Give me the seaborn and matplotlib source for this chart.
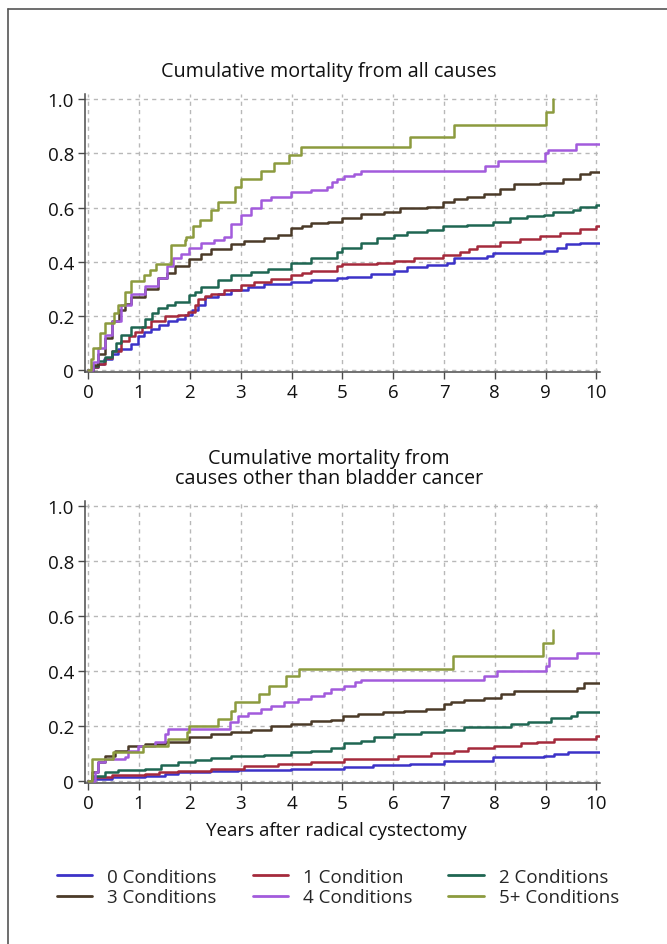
import numpy as np
import pandas as pd
import matplotlib
matplotlib.use("Agg")
import matplotlib.pyplot as plt
from matplotlib.lines import Line2D
import seaborn as sns

# ---------------- data ----------------
groups = ["0 Conditions", "1 Condition", "2 Conditions",
          "3 Conditions", "4 Conditions", "5+ Conditions"]
colors = ["#3c32c8", "#a52a3c", "#1f6652", "#4b3a28", "#a25bdc", "#8c9b3e"]

title_top = "Cumulative mortality from all causes"
title_bottom = "Cumulative mortality from\ncauses other than bladder cancer"
xlabel = "Years after radical cystectomy"
xticks = list(range(0, 11))
yticks = [0, 0.2, 0.4, 0.6, 0.8, 1.0]
ytick_labels = ["0", "0.2", "0.4", "0.6", "0.8", "1.0"]

# --- all causes ---
all_t0 = [0, 0.1, 0.2, 0.3, 0.46, 0.59, 0.85, 0.98, 1.1, 1.24, 1.4, 1.57, 1.75, 1.9, 2.05, 2.16, 2.29, 2.55, 2.81,
          3.14, 3.46, 3.99, 4.38, 4.9, 5.1, 5.56, 6.01, 6.27, 6.67, 7.06, 7.19, 7.84, 7.97, 8.96, 9.22, 9.41, 9.67, 10.07]
all_v0 = [0, 0.01, 0.023, 0.04, 0.06, 0.077, 0.095, 0.125, 0.14, 0.15, 0.165, 0.18, 0.19, 0.204, 0.22, 0.24, 0.27,
          0.282, 0.295, 0.307, 0.319, 0.325, 0.331, 0.34, 0.343, 0.355, 0.367, 0.379, 0.388, 0.397, 0.412, 0.421,
          0.434, 0.44, 0.452, 0.464, 0.47, 0.47]
all_t1 = [0, 0.1, 0.2, 0.33, 0.46, 0.65, 0.8, 0.91, 1.05, 1.24, 1.5, 1.76, 1.96, 2.1, 2.16, 2.3, 2.42, 2.68, 3.0, 3.27,
          3.6, 3.99, 4.2, 4.38, 4.9, 5.0, 5.69, 6.01, 6.41, 6.99, 7.32, 7.5, 7.65, 8.11, 8.5, 8.89, 9.28, 9.67, 10.0, 10.07]
all_v1 = [0, 0.01, 0.023, 0.045, 0.07, 0.107, 0.125, 0.14, 0.16, 0.18, 0.198, 0.204, 0.216, 0.24, 0.264, 0.272, 0.282,
          0.295, 0.313, 0.325, 0.337, 0.35, 0.358, 0.367, 0.385, 0.392, 0.397, 0.403, 0.415, 0.424, 0.436, 0.447,
          0.458, 0.472, 0.484, 0.494, 0.506, 0.52, 0.533, 0.533]
all_t2 = [0, 0.1, 0.2, 0.33, 0.46, 0.55, 0.65, 0.85, 1.11, 1.25, 1.37, 1.55, 1.7, 1.99, 2.1, 2.22, 2.55, 2.81, 3.2,
          3.53, 3.99, 4.38, 4.9, 5.0, 5.36, 5.69, 6.01, 6.27, 6.67, 6.99, 7.45, 7.97, 8.3, 8.63, 8.96, 9.15, 9.54,
          9.67, 10.0, 10.07]
all_v2 = [0, 0.015, 0.035, 0.05, 0.07, 0.1, 0.13, 0.16, 0.19, 0.21, 0.228, 0.24, 0.252, 0.277, 0.29, 0.307, 0.331,
          0.35, 0.361, 0.373, 0.397, 0.415, 0.436, 0.452, 0.47, 0.488, 0.5, 0.509, 0.518, 0.53, 0.536, 0.545, 0.56,
          0.569, 0.572, 0.585, 0.59, 0.603, 0.608, 0.608]
all_t3 = [0, 0.1, 0.2, 0.33, 0.46, 0.6, 0.72, 0.85, 1.11, 1.37, 1.55, 1.7, 1.99, 2.22, 2.42, 2.81, 3.07, 3.46, 3.73,
          3.99, 4.2, 4.38, 4.71, 5.0, 5.36, 5.81, 6.14, 6.67, 6.99, 7.2, 7.45, 7.78, 8.11, 8.37, 8.89, 9.35, 9.67,
          9.87, 10.07]
all_v3 = [0, 0.02, 0.06, 0.12, 0.18, 0.22, 0.245, 0.27, 0.30, 0.34, 0.36, 0.386, 0.41, 0.43, 0.446, 0.464, 0.476,
          0.488, 0.5, 0.524, 0.532, 0.542, 0.548, 0.56, 0.576, 0.585, 0.597, 0.603, 0.62, 0.63, 0.639, 0.651, 0.669,
          0.688, 0.69, 0.705, 0.723, 0.731, 0.731]
all_t4 = [0, 0.1, 0.2, 0.33, 0.46, 0.65, 0.85, 1.11, 1.37, 1.54, 1.67, 1.83, 1.99, 2.22, 2.48, 2.68, 2.81, 3.0, 3.2,
          3.4, 3.6, 3.99, 4.38, 4.7, 4.8, 4.9, 5.03, 5.23, 5.36, 7.81, 8.07, 8.99, 9.05, 9.6, 10.07]
all_v4 = [0, 0.03, 0.083, 0.13, 0.18, 0.24, 0.28, 0.31, 0.34, 0.386, 0.415, 0.43, 0.45, 0.47, 0.48, 0.49, 0.54, 0.572,
          0.597, 0.627, 0.64, 0.657, 0.663, 0.675, 0.693, 0.705, 0.717, 0.723, 0.735, 0.754, 0.772, 0.802, 0.814,
          0.834, 0.834]
all_t5 = [0, 0.05, 0.1, 0.24, 0.33, 0.5, 0.59, 0.72, 0.85, 1.1, 1.21, 1.34, 1.63, 1.9, 1.93, 2.06, 2.19, 2.42, 2.55,
          2.88, 3.0, 3.4, 3.66, 3.95, 4.18, 6.33, 7.19, 9.0, 9.15]
all_v5 = [0, 0.04, 0.083, 0.138, 0.175, 0.21, 0.24, 0.29, 0.33, 0.35, 0.37, 0.39, 0.46, 0.48, 0.49, 0.53, 0.555,
          0.59, 0.62, 0.675, 0.705, 0.735, 0.765, 0.795, 0.822, 0.86, 0.905, 0.953, 1.0]

# --- causes other than bladder cancer ---
oth_t0 = [0, 0.07, 0.46, 1.11, 1.5, 1.76, 2.4, 2.94, 3.99, 5.03, 5.6, 6.34, 7.0, 7.96, 8.97, 9.17, 9.44, 10.07]
oth_v0 = [0, 0.006, 0.012, 0.018, 0.025, 0.03, 0.035, 0.04, 0.042, 0.048, 0.055, 0.061, 0.073, 0.085, 0.091, 0.097,
          0.105, 0.105]
oth_t1 = [0, 0.07, 0.46, 1.11, 1.4, 1.76, 2.42, 3.07, 3.73, 4.38, 5.03, 6.09, 6.75, 7.2, 7.47, 7.98, 8.51, 8.84,
          9.17, 9.99, 10.07]
oth_v1 = [0, 0.012, 0.02, 0.024, 0.03, 0.036, 0.042, 0.052, 0.061, 0.069, 0.079, 0.091, 0.099, 0.109, 0.118, 0.127,
          0.136, 0.142, 0.152, 0.164, 0.164]
oth_t2 = [0, 0.07, 0.33, 0.59, 1.11, 1.44, 1.76, 2.09, 2.42, 2.81, 3.46, 3.99, 4.38, 4.77, 5.04, 5.37, 5.63, 6.02,
          6.55, 7.0, 7.4, 8.32, 8.65, 9.1, 9.5, 9.62, 10.07]
oth_v2 = [0, 0.018, 0.03, 0.039, 0.042, 0.055, 0.067, 0.075, 0.081, 0.091, 0.093, 0.103, 0.109, 0.118, 0.136, 0.145,
          0.16, 0.17, 0.176, 0.185, 0.194, 0.206, 0.215, 0.227, 0.236, 0.251, 0.251]
oth_t3 = [0, 0.07, 0.2, 0.33, 0.52, 0.78, 1.11, 1.5, 1.99, 2.42, 2.81, 3.2, 3.59, 3.99, 4.38, 4.77, 5.01, 5.3, 5.8,
          6.22, 6.65, 7.0, 7.14, 7.4, 7.79, 8.12, 8.38, 9.62, 9.75, 10.07]
oth_v3 = [0, 0.03, 0.067, 0.09, 0.109, 0.127, 0.135, 0.142, 0.158, 0.168, 0.176, 0.186, 0.2, 0.208, 0.216, 0.222,
          0.236, 0.242, 0.251, 0.255, 0.26, 0.279, 0.287, 0.295, 0.3, 0.315, 0.327, 0.339, 0.355, 0.355]
oth_t4 = [0, 0.13, 0.2, 0.33, 0.72, 0.78, 0.98, 1.31, 1.5, 1.57, 2.78, 2.94, 3.14, 3.4, 3.59, 3.85, 4.12, 4.38, 4.64,
          4.77, 5.04, 5.24, 5.37, 7.79, 8.05, 9.0, 9.07, 9.62, 10.07]
oth_v4 = [0, 0.03, 0.067, 0.079, 0.085, 0.109, 0.127, 0.139, 0.17, 0.188, 0.212, 0.236, 0.248, 0.26, 0.273, 0.285,
          0.297, 0.309, 0.321, 0.333, 0.345, 0.358, 0.367, 0.382, 0.4, 0.418, 0.445, 0.464, 0.464]
oth_t5 = [0, 0.07, 0.49, 1.08, 1.57, 1.94, 1.99, 2.55, 2.8, 2.88, 3.35, 3.56, 3.89, 4.15, 7.17, 8.94, 9.14]
oth_v5 = [0, 0.079, 0.103, 0.127, 0.152, 0.176, 0.2, 0.224, 0.255, 0.285, 0.315, 0.345, 0.38, 0.406, 0.455, 0.503,
          0.549]

all_times = [all_t0, all_t1, all_t2, all_t3, all_t4, all_t5]
all_vals = [all_v0, all_v1, all_v2, all_v3, all_v4, all_v5]
oth_times = [oth_t0, oth_t1, oth_t2, oth_t3, oth_t4, oth_t5]
oth_vals = [oth_v0, oth_v1, oth_v2, oth_v3, oth_v4, oth_v5]


def long_df(times, vals):
    rows = []
    for g, ts, vs in zip(groups, times, vals):
        for t, v in zip(ts, vs):
            rows.append((g, t, v))
    return pd.DataFrame(rows, columns=["group", "years", "mortality"])


df_all = long_df(all_times, all_vals)
df_oth = long_df(oth_times, oth_vals)

# ---------------- style ----------------
sns.set_style("white")
plt.rcParams["font.family"] = ["Open Sans", "DejaVu Sans"]
FS = 13.5
FS_T = 14.2
spine_col = "#4a4a4a"
grid_col = "#b8b8b8"
palette = dict(zip(groups, colors))

fig = plt.figure(figsize=(6.67, 9.45), dpi=100)
ax1 = fig.add_axes([85 / 667, 1 - 373 / 945, 515 / 667, 278 / 945])
ax2 = fig.add_axes([85 / 667, 1 - 783.5 / 945, 515 / 667, 281.5 / 945])

for ax, df in [(ax1, df_all), (ax2, df_oth)]:
    sns.lineplot(data=df, x="years", y="mortality", hue="group", hue_order=groups,
                 palette=palette, estimator=None, drawstyle="steps-post",
                 linewidth=1.8, legend=False, ax=ax, zorder=3)
    ax.set_xlim(-0.065, 10.07)
    ax.set_ylim(-0.007, 1.019)
    ax.set_xticks(xticks)
    ax.set_xticklabels([str(x) for x in xticks])
    ax.set_yticks(yticks)
    ax.set_yticklabels(ytick_labels)
    ax.set_xlabel("")
    ax.set_ylabel("")
    ax.grid(True, linestyle=(0, (3, 3)), color=grid_col, linewidth=1.0, zorder=0)
    for s in ["top", "right"]:
        ax.spines[s].set_visible(False)
    for s in ["left", "bottom"]:
        ax.spines[s].set_color(spine_col)
        ax.spines[s].set_linewidth(1.1)
    ax.tick_params(axis="both", direction="out", length=5, width=1.0, color=spine_col,
                   labelsize=FS, labelcolor="#111111", pad=3, left=True, bottom=True)

cx = 329 / 667
fig.text(cx, 1 - 72 / 945, title_top, ha="center", va="center", fontsize=FS_T, color="#111111")
fig.text(cx, 1 - 469 / 945, title_bottom, ha="center", va="center", fontsize=FS_T, color="#111111",
         linespacing=1.05)
fig.text(336 / 667, 1 - 831 / 945, xlabel, ha="center", va="center", fontsize=FS, color="#111111")

handles = [Line2D([0], [0], color=c, lw=2.0) for c in colors]
order = [0, 3, 1, 4, 2, 5]
fig.legend([handles[i] for i in order], [groups[i] for i in order], ncol=3,
           loc="center", bbox_to_anchor=(338 / 667, 1 - 888 / 945), frameon=False,
           fontsize=FS, handlelength=1.9, handletextpad=0.8, columnspacing=1.9,
           labelspacing=0.15, borderpad=0)

# partial figure frame (top and left edges)
fig.add_artist(Line2D([8 / 667, 8 / 667], [0, 1 - 10 / 945], transform=fig.transFigure,
                      color="#555555", lw=1.2))
fig.add_artist(Line2D([8 / 667, 1], [1 - 10 / 945, 1 - 10 / 945], transform=fig.transFigure,
                      color="#555555", lw=1.2))

fig.savefig("out.png", dpi=100)
